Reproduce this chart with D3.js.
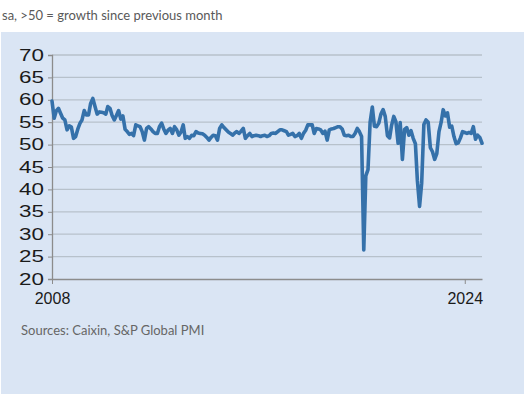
<!DOCTYPE html>
<html>
<head>
<meta charset="utf-8">
<script src="https://cdn.jsdelivr.net/npm/d3@7"></script>
<style>
  body { margin: 0; background: #fff; }
  svg { display: block; }
</style>
</head>
<body>
<div id="chart"></div>
<script>
const subtitle = "sa, >50 = growth since previous month";
const source = "Sources: Caixin, S&P Global PMI";
const yTicks = [20, 25, 30, 35, 40, 45, 50, 55, 60, 65, 70];
const xTickYears = [2008, 2024];

// monthly index, Jan 2008 .. Sep 2024
const pmi2008 = [59.7, 55.9, 57.5, 58.1, 57.0, 55.9, 55.5, 53.3, 54.2, 53.9, 51.4, 51.8];
const pmi2009 = [53.5, 54.8, 55.5, 57.6, 56.6, 56.6, 59.2, 60.3, 58.5, 56.8, 57.3, 57.2];
const pmi2010 = [57.1, 56.8, 58.5, 58.1, 56.5, 55.5, 56.5, 57.6, 55.7, 56.4, 53.4, 52.9];
const pmi2011 = [52.3, 52.5, 52.0, 54.4, 54.2, 54.0, 52.9, 51.0, 53.6, 54.0, 53.5, 52.9];
const pmi2012 = [52.5, 52.5, 54.0, 54.8, 53.5, 52.5, 53.2, 53.6, 52.5, 54.0, 53.3, 52.1];
const pmi2013 = [52.8, 54.4, 51.4, 51.8, 51.4, 52.1, 52.0, 52.9, 52.6, 52.5, 52.4, 52.1];
const pmi2014 = [51.6, 51.0, 51.6, 52.1, 52.0, 51.0, 53.6, 54.4, 53.8, 53.3, 52.8, 52.5];
const pmi2015 = [52.1, 52.6, 52.9, 52.5, 53.0, 53.6, 51.4, 52.0, 52.5, 51.8, 52.0, 52.1];
const pmi2016 = [52.0, 51.8, 52.0, 52.1, 51.8, 52.0, 52.5, 52.6, 52.5, 52.9, 53.3, 53.3];
const pmi2017 = [53.1, 52.9, 52.1, 52.3, 52.5, 51.8, 52.0, 52.5, 51.4, 52.5, 53.2, 54.4];
const pmi2018 = [54.4, 54.4, 52.5, 53.6, 53.5, 53.3, 52.5, 53.0, 51.0, 53.3, 53.5, 53.6];
const pmi2019 = [53.8, 54.0, 54.0, 53.5, 52.1, 52.0, 52.1, 51.8, 51.8, 52.5, 53.6, 52.9];
const pmi2020 = [51.8, 26.5, 43.0, 44.4, 55.0, 58.4, 54.1, 54.0, 54.8, 56.8, 57.8, 56.3];
const pmi2021 = [52.0, 51.5, 54.3, 56.3, 55.1, 50.3, 54.9, 46.7, 53.4, 53.8, 52.1, 53.1];
const pmi2022 = [51.4, 50.2, 42.0, 36.2, 41.4, 54.5, 55.5, 55.0, 49.3, 48.4, 46.7, 48.0];
const pmi2023 = [52.9, 55.0, 57.8, 56.4, 57.1, 53.9, 54.1, 51.8, 50.2, 50.4, 51.5, 52.9];
const pmi2024 = [52.7, 52.5, 52.7, 52.5, 54.0, 51.2, 52.1, 51.6, 50.3];

const pmiValues = [].concat(pmi2008, pmi2009, pmi2010, pmi2011, pmi2012, pmi2013,
  pmi2014, pmi2015, pmi2016, pmi2017, pmi2018, pmi2019, pmi2020, pmi2021,
  pmi2022, pmi2023, pmi2024);
const data = pmiValues.map((v, i) => ({ date: new Date(2008, i, 1), value: v }));

const width = 524;
const height = 394;
const margin = { top: 55, right: 42, bottom: 115, left: 52 };

const svg = d3.select("#chart").append("svg")
  .attr("width", width)
  .attr("height", height);

// panel background
svg.append("rect")
  .attr("x", 1).attr("y", 32)
  .attr("width", width - 1).attr("height", height - 32)
  .attr("fill", "#dae5f4");

svg.append("text")
  .attr("x", 2).attr("y", 20)
  .attr("font-family", "Lato, sans-serif")
  .attr("font-size", 13)
  .attr("fill", "#595959")
  .text(subtitle);

const x = d3.scaleTime()
  .domain([new Date(2008, 0, 1), new Date(2024, 8, 1)])
  .range([margin.left, width - margin.right]);
const y = d3.scaleLinear()
  .domain([20, 70])
  .range([height - margin.bottom, margin.top]);

// gridlines
svg.append("g")
  .selectAll("line")
  .data(yTicks.filter(d => d > 20))
  .join("line")
  .attr("x1", margin.left).attr("x2", width - margin.right)
  .attr("y1", d => y(d)).attr("y2", d => y(d))
  .attr("stroke", "#b7c1cb")
  .attr("stroke-width", 1.3);

// y axis
const yAxis = svg.append("g")
  .attr("transform", `translate(${margin.left},0)`)
  .call(d3.axisLeft(y).tickValues(yTicks).tickSize(4).tickPadding(4));
yAxis.select(".domain").attr("stroke", "#8c8c8c").attr("stroke-width", 1.3);
yAxis.selectAll(".tick line").attr("stroke", "#8c8c8c");
// labels in the reference are drawn wide; stretch them about their right edge
yAxis.selectAll(".tick text")
  .attr("font-family", "Liberation Sans, Arial, sans-serif")
  .attr("font-size", 16)
  .attr("fill", "#1a1a1a")
  .attr("transform", "translate(-8,0) scale(1.4,1) translate(8,0)");

// x axis
const xAxis = svg.append("g")
  .attr("transform", `translate(0,${height - margin.bottom})`)
  .call(d3.axisBottom(x)
    .tickValues(xTickYears.map(yr => new Date(yr, 0, 1)))
    .tickFormat(d3.timeFormat("%Y"))
    .tickSizeInner(5).tickSizeOuter(0).tickPadding(9));
xAxis.select(".domain").attr("stroke", "#8c8c8c").attr("stroke-width", 1.3);
xAxis.selectAll(".tick line").attr("stroke", "#8c8c8c");
xAxis.selectAll(".tick text")
  .attr("font-family", "Liberation Sans, Arial, sans-serif")
  .attr("font-size", 16)
  .attr("fill", "#1a1a1a");

const line = d3.line()
  .x(d => x(d.date))
  .y(d => y(d.value));

svg.append("path")
  .datum(data)
  .attr("d", line)
  .attr("fill", "none")
  .attr("stroke", "#3571aa")
  .attr("stroke-width", 3.6)
  .attr("stroke-linejoin", "round")
  .attr("stroke-linecap", "round");

svg.append("text")
  .attr("x", 21).attr("y", 335)
  .attr("font-family", "Lato, sans-serif")
  .attr("font-size", 13)
  .attr("fill", "#666")
  .text(source);
</script>
</body>
</html>
